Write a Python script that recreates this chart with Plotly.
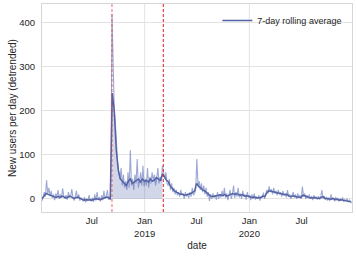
import pandas as pd
import plotly.graph_objects as go

# ---- data ----
raw_start = "2018-01-08"   # raw daily counts sampled every 4 days
raw_values = [
    -5, 8, 15, 5, 42, 10,                 # Jan 2018
    25, 6, 18, 2, 10, -3, 12,             # Feb
    4, 20, 0, 10, 2, 24, 5, 0,            # Mar
    8, -2, 15, 3, 6, 22, 2, -4,           # Apr
    5, 18, 0, 10, -4, 3, -2,              # May
    -6, 4, -8, 0, -5, 8, -3, -6,          # Jun
    2, -7, 10, -4, 15, -2, 4, -6,         # Jul
    8, -3, 18, 0, 5, 20, -2,              # Aug
    6, -3, 420, 300, 200, 170, 120, 80,   # Sep
    60, 45, 70, 30, 55, 25, 40, 20,       # Oct
    60, 25, 110, 30, 45, 20, 55,          # Nov
    35, 90, 25, 40, 60, 30, 75, 28,       # Dec
    45, 30, 70, 25, 50, 35, 60, 40,       # Jan 2019
    55, 30, 45, 70, 35, 50, 40,           # Feb
    75, 55, 45, 60, 35, 30, 45,           # Mar
    20, 35, 15, 25, 10, 20, 8, 15,        # Apr
    5, 20, 8, 12, 0, 15, 5, 10,           # May
    2, 15, 5, 25, 8, 12, 20,              # Jun
    90, 30, 40, 20, 35, 15, 30, 10,       # Jul
    25, 5, 15, -5, 10, 0, 12, 2,          # Aug
    8, -2, 15, 0, 10, 3, 18,              # Sep
    5, 25, 2, 12, -3, 8, 20, 0,           # Oct
    10, 30, 2, 15, 5, 25, 3,              # Nov
    12, 0, 18, 5, 10, -2, 15, 3,          # Dec
    8, -3, 10, 0, 12, -2, 5, 0,           # Jan 2020
    8, -4, 6, 2, 14, 0, 10,               # Feb
    20, 12, 28, 15, 22, 10, 25, 12,       # Mar
    18, 8, 20, 10, 15, 5, 18,             # Apr
    8, 12, 3, 20, 5, 10, 0, 8,            # May
    15, 3, 10, 0, 12, 2, 8, 0,            # Jun
    28, 5, 12, 0, 8, 2, 10,               # Jul
    0, 6, -3, 8, 0, 5, -2, 6,             # Aug
    -2, 4, 20, 0, 6, -3, 4, -4,           # Sep
    3, -5, 10, -2, 2, -6, 4,              # Oct
    -3, 2, -6, 0, -4, 3, -7, -2,          # Nov
    -5, 0, -8, -3, -6, -10,               # Dec
]

roll_start = "2018-01-08"  # 7-day rolling average sampled weekly
roll_values = [
    0, 6, 12, 10,          # Jan 2018
    8, 6, 4, 3,            # Feb
    5, 3, 6, 4,            # Mar
    2, 4, 6, 3, 1,         # Apr
    3, 4, 1, -1,           # May
    -3, -2, -3, -2,        # Jun
    -3, -1, 0, -1, -2,     # Jul
    0, 2, 4, 3,            # Aug
    -1, 240, 200, 110,     # Sep
    65, 45, 40, 35, 30,    # Oct
    40, 45, 35, 38,        # Nov
    40, 45, 38, 45, 40,    # Dec
    42, 38, 45, 40,        # Jan 2019
    42, 48, 45, 42,        # Feb
    55, 50, 42, 38,        # Mar
    28, 22, 18, 15, 12,    # Apr
    10, 10, 8, 9,          # May
    10, 12, 14, 18,        # Jun
    35, 28, 25, 20, 18,    # Jul
    14, 10, 6, 5,          # Aug
    6, 7, 8, 9, 7,         # Sep
    10, 6, 8, 9,           # Oct
    12, 10, 12, 9,         # Nov
    8, 9, 6, 7, 5,         # Dec
    4, 3, 4, 2,            # Jan 2020
    2, 3, 6, 5,            # Feb
    14, 18, 17, 16, 15,    # Mar
    14, 12, 11, 10,        # Apr
    9, 10, 6, 5,           # May
    7, 5, 4, 4, 3,         # Jun
    8, 6, 4, 3,            # Jul
    2, 2, 3, 1, 1,         # Aug
    3, 5, 1, 0,            # Sep
    0, -1, 1, -2,          # Oct
    -1, -3, -2, -3, -4,    # Nov
    -4, -6, -7,            # Dec
]

event_dates = ["2018-09-09", "2019-03-07"]
x_range = ["2018-01-08", "2020-12-24"]

tick_dates = ["2018-07-01", "2019-01-01", "2019-07-01", "2020-01-01", "2020-07-01"]
tick_labels = ["Jul", "Jan<br>2019", "Jul", "Jan<br>2020", "Jul"]
grid_dates = ["2019-01-01", "2020-01-01"]
y_ticks = [0, 100, 200, 300, 400]

# ---- build ----
raw_dates = pd.date_range(raw_start, periods=len(raw_values), freq="4D")
roll_dates = pd.date_range(roll_start, periods=len(roll_values), freq="7D")
roll = pd.Series(roll_values, index=roll_dates)
e0, e1 = pd.Timestamp(event_dates[0]), pd.Timestamp(event_dates[1])
seg = roll[(roll.index >= e0) & (roll.index <= e1)]

fig = go.Figure()
fig.add_trace(go.Scatter(x=seg.index, y=seg.values, mode="lines", line=dict(width=0),
                         fill="tozeroy", fillcolor="rgba(76,95,165,0.26)",
                         showlegend=False, hoverinfo="skip"))
fig.add_trace(go.Scatter(x=raw_dates, y=raw_values, mode="lines",
                         line=dict(color="rgba(95,115,185,0.62)", width=1.1),
                         showlegend=False))
fig.add_trace(go.Scatter(x=roll_dates, y=roll_values, mode="lines",
                         line=dict(color="#5462a3", width=1.5),
                         name="7-day rolling average"))

for g in grid_dates:
    fig.add_shape(type="line", xref="x", yref="paper", x0=g, x1=g, y0=0, y1=1,
                  line=dict(color="#e3e3e3", width=1), layer="below")

fig.add_shape(type="line", xref="x", yref="paper", x0=event_dates[0], x1=event_dates[0],
              y0=0, y1=1, line=dict(color="rgba(235,60,60,0.6)", width=1.3, dash="3px,2px"),
              layer="above")
fig.add_shape(type="line", xref="x", yref="paper", x0=event_dates[1], x1=event_dates[1],
              y0=0, y1=1, line=dict(color="rgb(225,30,30)", width=1, dash="3px,2px"),
              layer="above")

fig.update_layout(
    width=357, height=257,
    margin=dict(l=42, r=5, t=4, b=45),
    plot_bgcolor="white", paper_bgcolor="white",
    font=dict(family="Liberation Sans, Arial, sans-serif", size=9.5, color="#262626"),
    legend=dict(x=0.985, y=0.99, xanchor="right", yanchor="top",
                bgcolor="rgba(255,255,255,0)", font=dict(size=9)),
)
fig.update_xaxes(type="date", range=x_range, tickvals=tick_dates, ticktext=tick_labels,
                 showgrid=False, showline=True, mirror=True, linecolor="#d6d6d6",
                 ticks="", title=dict(text="date", font=dict(size=10), standoff=4))
fig.update_yaxes(range=[-30, 442], tickvals=y_ticks, showgrid=True, gridcolor="#e3e3e3",
                 zeroline=False, showline=True, mirror=True, linecolor="#d6d6d6",
                 ticks="", ticklabelstandoff=4,
                 title=dict(text="New users per day (detrended)", font=dict(size=10),
                            standoff=0))

fig.write_html("out.html", config={"displayModeBar": False},
               post_script="document.body.style.margin='0';document.body.style.padding='0';")
